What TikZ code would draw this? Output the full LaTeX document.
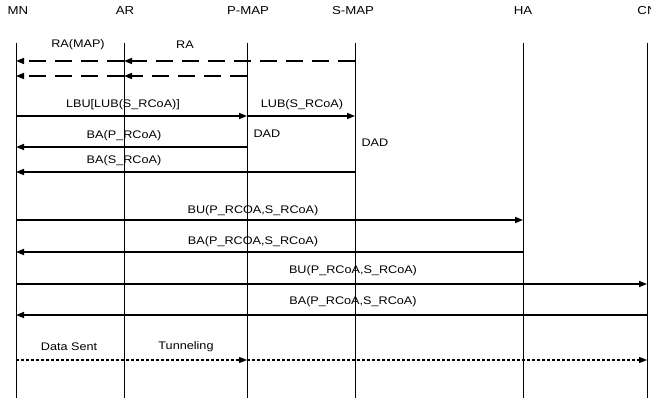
\documentclass[tikz,border=0pt]{standalone}
\usepackage{fontspec}
\setmainfont{Liberation Sans}[FakeStretch=1.15]
\usetikzlibrary{arrows.meta}

\begin{document}
\begin{tikzpicture}[x=1pt,y=-1pt,
		life/.style={line width=0.8pt},
		msg/.style={line width=1.6pt,-{Triangle[length=8pt,width=6pt]}},
		ramsg/.style={msg,dash pattern=on 17pt off 9pt},
		datamsg/.style={line width=1.3pt,dash pattern=on 3pt off 2pt,-{Triangle[length=8pt,width=6pt]}},
		hdr/.style={font=\fontsize{11.5}{13}\selectfont},
		lbl/.style={font=\fontsize{11}{13}\selectfont}]
		\useasboundingbox[fill=white] (0,0) rectangle (651,398);

		% entities
		\node[hdr] (mnh) at (18,11) {MN};
		\node[hdr] (arh) at (125,11) {AR};
		\node[hdr] (pmaph) at (248,11) {P-MAP};
		\node[hdr] (smaph) at (353,11) {S-MAP};
		\node[hdr] (hah) at (523,11) {HA};
		\node[hdr] (cnh) at (647,11) {CN};

		% lifelines
		\coordinate (mn) at (16,43);
		\coordinate (ar) at (124,43);
		\coordinate (pmap) at (247,43);
		\coordinate (smap) at (355,43);
		\coordinate (ha) at (523,43);
		\coordinate (cn) at (647,43);
		\draw[life] (mn) -- (mn |- 0,400);
		\draw[life] (ar) -- (ar |- 0,400);
		\draw[life] (pmap) -- (pmap |- 0,400);
		\draw[life] (smap) -- (smap |- 0,400);
		\draw[life] (ha) -- (ha |- 0,400);
		\draw[life] (cn) -- (cn |- 0,400);

		% router advertisements
		\node[lbl] (ramap) at (78,45) {RA(MAP)};
		\node[lbl] (ra) at (185,45) {RA};
		\draw[ramsg] (smap |- 0,61) -- (ar |- 0,61);
		\draw[ramsg] (ar |- 0,61) -- (mn |- 0,61);
		\draw[ramsg] (pmap |- 0,76) -- (ar |- 0,76);
		\draw[ramsg] (ar |- 0,76) -- (mn |- 0,76);

		% local binding update
		\node[lbl] (lbu) at (123,105) {LBU[LUB(S\_RCoA)]};
		\node[lbl] (lub) at (302,105) {LUB(S\_RCoA)};
		\draw[msg] (mn |- 0,116) -- (pmap |- 0,116);
		\draw[msg] (pmap |- 0,116) -- (smap |- 0,116);

		\node[lbl, anchor=west] (dadp) at (250,134) {DAD};
		\node[lbl, anchor=west] (dads) at (358,143) {DAD};

		\node[lbl] (bap) at (124,136) {BA(P\_RCoA)};
		\draw[msg] (pmap |- 0,147) -- (mn |- 0,147);
		\node[lbl] (bas) at (124,161) {BA(S\_RCoA)};
		\draw[msg] (smap |- 0,172) -- (mn |- 0,172);

		% home agent
		\node[lbl] (buha) at (253,211) {BU(P\_RCOA,S\_RCoA)};
		\draw[msg] (mn |- 0,220) -- (ha |- 0,220);
		\node[lbl] (baha) at (253,242) {BA(P\_RCOA,S\_RCoA)};
		\draw[msg] (ha |- 0,252) -- (mn |- 0,252);

		% correspondent node
		\node[lbl] (bucn) at (353,271) {BU(P\_RCoA,S\_RCoA)};
		\draw[msg] (mn |- 0,284) -- (cn |- 0,284);
		\node[lbl] (bacn) at (353,302) {BA(P\_RCoA,S\_RCoA)};
		\draw[msg] (cn |- 0,315) -- (mn |- 0,315);

		% data
		\node[lbl] (data) at (69,347) {Data Sent};
		\node[lbl] (tun) at (186,347) {Tunneling};
		\draw[datamsg] (mn |- 0,360) -- (pmap |- 0,360);
		\draw[datamsg] (pmap |- 0,360) -- (cn |- 0,360);

	\end{tikzpicture}
\end{document}
